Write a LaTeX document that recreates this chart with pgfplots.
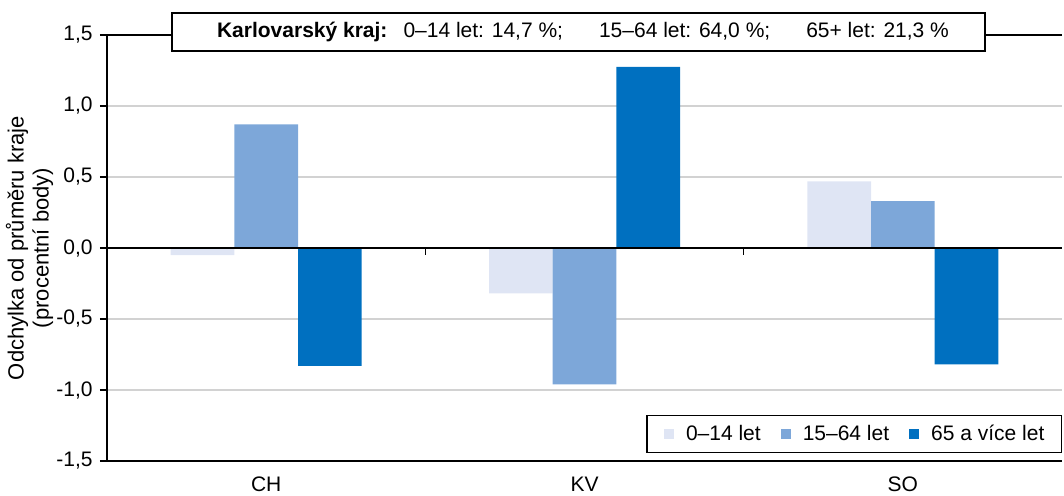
\documentclass[border=0pt]{standalone}
\usepackage{fontspec}
\setmainfont{Liberation Sans}
\usepackage{pgfplots}
\pgfplotsset{compat=1.18}
\definecolor{cA}{HTML}{DFE5F4}
\definecolor{cB}{HTML}{7DA7D9}
\definecolor{cC}{HTML}{0070C0}

\begin{document}
\fontsize{10.5}{12.6}\selectfont
\begin{tikzpicture}
\begin{axis}[
    at={(53.5pt,17pt)}, anchor=south west,
    width=477.5pt, height=213pt, scale only axis,
    xmin=-0.5, xmax=2.5, ymin=-1.5, ymax=1.5,
    axis x line*=box, axis y line*=left,
    axis line style={line width=1.2pt},
    ybar, bar width=0.2,
    xtick={0,1,2}, xticklabels={CH,KV,SO},
    x tick style={draw=none},
    xticklabel style={inner ysep=0.5pt, yshift=-3.75pt},
    ytick={-1.5,-1,...,1.5},
    y tick style={line width=0.8pt, black},
    tick align=outside, major tick length=3.5pt,
    ymajorgrids, grid style={gray!35, line width=0.6pt},
    /pgf/number format/use comma,
    /pgf/number format/fixed,
    /pgf/number format/fixed zerofill,
    /pgf/number format/precision=1,
    /pgf/number format/assume math mode=true,
    ylabel={Odchylka od průměru kraje\\(procentní body)},
    ylabel style={align=center, font=\fontsize{11}{12.5}\selectfont,
        at={(axis description cs:-0.081,0.5)}, anchor=center},
    legend columns=3,
    legend style={at={(1,0.019)}, anchor=south east, draw=black, line width=0.6pt,
        inner xsep=8.5pt, inner ysep=2.5pt,
        nodes={inner xsep=0pt, inner ysep=2pt},
        /tikz/every odd column/.append style={column sep=6pt},
        /tikz/every even column/.append style={column sep=10pt}},
    legend image code/.code={\path[#1] (0pt,-2.5pt) rectangle (5pt,2.5pt);},
]
\addplot[bar shift=-0.2, fill=cA, draw=none] coordinates {(0,-0.05) (1,-0.32) (2,0.47)};
\addplot[bar shift=0, fill=cB, draw=none] coordinates {(0,0.87) (1,-0.96) (2,0.33)};
\addplot[bar shift=0.2, fill=cC, draw=none] coordinates {(0,-0.83) (1,1.275) (2,-0.82)};
\legend{0–14 let, 15–64 let, 65 a více let}
\draw[line width=1.2pt] (axis cs:-0.5,0) -- (axis cs:2.5,0);
\draw[line width=0.8pt] (axis cs:0.5,0) -- ++(0pt,-3.5pt);
\draw[line width=0.8pt] (axis cs:1.5,0) -- ++(0pt,-3.5pt);
\end{axis}
\node[draw, fill=white, line width=0.6pt, minimum width=406.5pt, minimum height=19pt, inner sep=0pt]
    at (289.25pt,231.5pt)
    {\hspace*{4.5pt}\textbf{Karlovarský kraj:}\hspace{8pt}0–14 let: 14,7~\%;\hspace{18pt}15–64 let: 64,0~\%;\hspace{18pt}65+ let: 21,3~\%};
\pgfresetboundingbox
\path[use as bounding box] (0,0) rectangle (532pt,247.5pt);
\end{tikzpicture}
\end{document}
